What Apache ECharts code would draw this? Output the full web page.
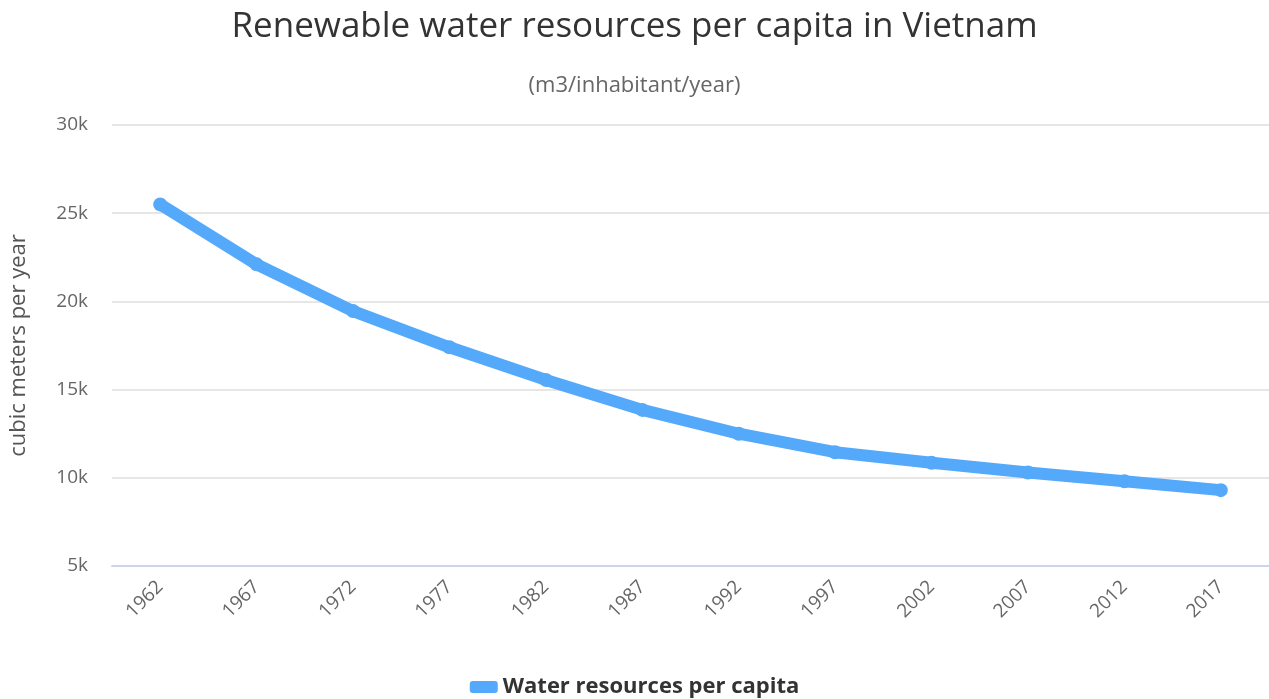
<!DOCTYPE html>
<html>
<head>
<meta charset="utf-8">
<script src="https://cdn.jsdelivr.net/npm/echarts@6/dist/echarts.min.js"></script>
<style>
html,body{margin:0;padding:0;background:#fff;}
#chart{width:1269px;height:699px;}
</style>
</head>
<body>
<div id="chart"></div>
<script>
// Years shown along the horizontal axis
const years = ['1962','1967','1972','1977','1982','1987','1992','1997','2002','2007','2012','2017'];
// Renewable water resources per capita (m3/inhabitant/year)
const waterPerCapita = [25500, 22100, 19450, 17400, 15550, 13850, 12500, 11450, 10850, 10300, 9800, 9300];
// Value axis tick settings
const yMin = 5000, yMax = 30000, yStep = 5000;

const chart = echarts.init(document.getElementById('chart'));
chart.setOption({
  animation: false,
  title: [{
    text: 'Renewable water resources per capita in Vietnam',
    left: 'center', top: 5,
    textStyle: { fontFamily: 'Open Sans, sans-serif', fontSize: 35, fontWeight: 'normal', color: '#333' }
  }, {
    text: '(m3/inhabitant/year)',
    left: 'center', top: 70,
    textStyle: { fontFamily: 'Open Sans, sans-serif', fontSize: 22, fontWeight: 'normal', color: '#666' }
  }],
  grid: { left: 112, right: 0, top: 125, bottom: 133, containLabel: false, outerBoundsMode: 'none' },
  legend: {
    bottom: -4, left: 'center',
    itemWidth: 28, itemHeight: 12, itemGap: 12,
    icon: 'roundRect',
    textStyle: { fontFamily: 'Open Sans, sans-serif', fontSize: 22, fontWeight: 'bold', color: '#333' },
    data: ['Water resources per capita']
  },
  xAxis: {
    type: 'category', data: years, boundaryGap: true,
    axisLine: { lineStyle: { color: '#ccd6eb', width: 2 } },
    axisTick: { show: false },
    axisLabel: { rotate: 45, margin: 18, color: '#666', fontFamily: 'Open Sans, sans-serif', fontSize: 19 }
  },
  yAxis: {
    type: 'value', min: yMin, max: yMax, interval: yStep,
    name: 'cubic meters per year', nameLocation: 'middle', nameGap: 82, nameRotate: 90,
    nameTextStyle: { color: '#555', fontFamily: 'Open Sans, sans-serif', fontSize: 22, fontWeight: 500 },
    axisLine: { show: false }, axisTick: { show: false },
    splitLine: { lineStyle: { color: '#e6e6e6', width: 2 } },
    axisLabel: { margin: 24, color: '#666', fontFamily: 'Open Sans, sans-serif', fontSize: 19,
      formatter: v => (v / 1000) + 'k' }
  },
  series: [{
    name: 'Water resources per capita', type: 'line', data: waterPerCapita,
    symbol: 'circle', symbolSize: 14,
    lineStyle: { color: '#55a9fa', width: 12, cap: 'round', join: 'round' },
    itemStyle: { color: '#55a9fa' }
  }]
});
</script>
</body>
</html>
